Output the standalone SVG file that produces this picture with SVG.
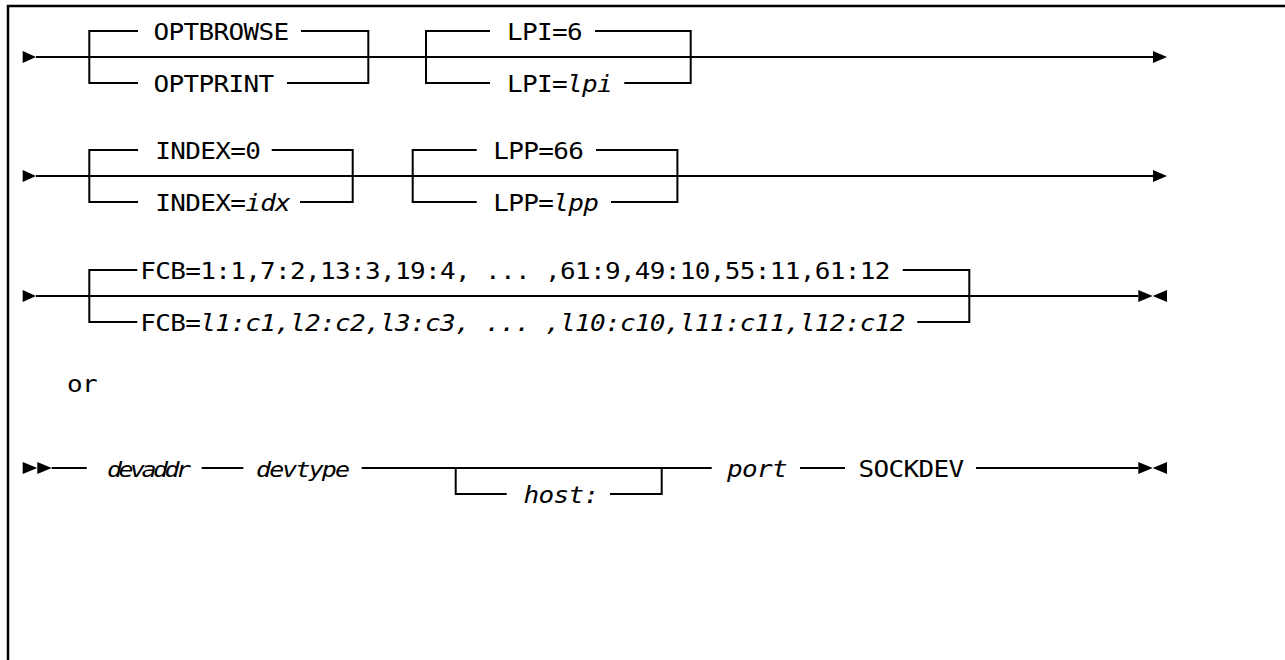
<svg xmlns="http://www.w3.org/2000/svg" width="1285" height="660" viewBox="0 0 1285 660">
<style>
.t{font-family:"DejaVu Sans Mono","Liberation Mono",monospace;font-size:26px;letter-spacing:-0.65px;fill:#000}
.i{font-style:italic}
.v{font-size:25px;letter-spacing:0}
.ln{stroke:#000;stroke-width:2;fill:none}
.ah{fill:#000;stroke:none}
.fr{stroke:#000;stroke-width:2.5;fill:none}
</style>
<rect x="0" y="0" width="1285" height="660" fill="#fff"/>
<path class="fr" d="M8 660 V6 H1285"/>
<g id="connectors">
  <path class="ln" d="M36 57 H1153 M138 31 H89.3 V83 H138 M301 31 H368.3 V83 H287 M490 31 H426 V83 H490 M595 31 H690.7 V83 H624.3"/>
  <path class="ln" d="M36 176 H1153 M138 150 H89.3 V202 H138 M271.7 150 H352.7 V202 H300 M476.7 150 H412.7 V202 H476.7 M596 150 H677.4 V202 H611"/>
  <path class="ln" d="M36 296 H1138.3 M137.3 270 H89.3 V322 H137.3 M902.7 270 H969.3 V322 H917.3"/>
  <path class="ln" d="M51.7 468 H86.7 M201.7 468 H243.3 M361.7 468 H711.7 M455.7 468 V494 H506.7 M610 494 H661.7 V468 M800 468 H845 M976 468 H1138.3"/>
  <polygon class="ah" points="22.7,51 36,57 22.7,63"/>
  <polygon class="ah" points="1153,51 1167,57 1153,63"/>
  <polygon class="ah" points="22.7,170 36,176 22.7,182"/>
  <polygon class="ah" points="1153,170 1167,176 1153,182"/>
  <polygon class="ah" points="22.7,290 36,296 22.7,302"/>
  <polygon class="ah" points="1138.3,290 1152.7,296 1138.3,302"/>
  <polygon class="ah" points="1167,290 1152.7,296 1167,302"/>
  <polygon class="ah" points="22.7,462 37.3,468 22.7,474"/>
  <polygon class="ah" points="37.3,462 51.7,468 37.3,474"/>
  <polygon class="ah" points="1138.3,462 1152.7,468 1138.3,474"/>
  <polygon class="ah" points="1167,462 1152.7,468 1167,474"/>
</g>
<g id="optbrowse" transform="translate(153.5,39.5) scale(1,0.88)"><text class="t">OPTBROWSE</text></g>
<g id="optprint" transform="translate(153.5,91.5) scale(1,0.88)"><text class="t">OPTPRINT</text></g>
<g id="lpi6" transform="translate(507,39.5) scale(1,0.88)"><text class="t">LPI=6</text></g>
<g id="lpivar" transform="translate(507,91.5) scale(1,0.88)"><text class="t">LPI=<tspan class="i">lpi</tspan></text></g>
<g id="index0" transform="translate(155.2,158.5) scale(1,0.88)"><text class="t">INDEX=0</text></g>
<g id="indexvar" transform="translate(155.2,210.5) scale(1,0.88)"><text class="t">INDEX=<tspan class="i">idx</tspan></text></g>
<g id="lpp66" transform="translate(493.2,158.5) scale(1,0.88)"><text class="t">LPP=66</text></g>
<g id="lppvar" transform="translate(493.2,210.5) scale(1,0.88)"><text class="t">LPP=<tspan class="i">lpp</tspan></text></g>
<g id="fcbdefault" transform="translate(140.2,278.5) scale(1,0.88)"><text class="t">FCB=1:1,7:2,13:3,19:4, ... ,61:9,49:10,55:11,61:12</text></g>
<g id="fcbvar" transform="translate(140.2,330.5) scale(1,0.88)"><text class="t">FCB=<tspan class="i">l1:c1,l2:c2,l3:c3, ... ,l10:c10,l11:c11,l12:c12</tspan></text></g>
<g id="or" transform="translate(67,392) scale(1,0.88)"><text class="t">or</text></g>
<g id="devaddr" transform="translate(107,476.5) scale(1,0.88)"><text class="t i v" textLength="84" lengthAdjust="spacing">devaddr</text></g>
<g id="devtype" transform="translate(256,476.5) scale(1,0.88)"><text class="t i v" textLength="94" lengthAdjust="spacing">devtype</text></g>
<g id="host" transform="translate(523.5,502.5) scale(1,0.88)"><text class="t i">host:</text></g>
<g id="port" transform="translate(727,476.5) scale(1,0.88)"><text class="t i">port</text></g>
<g id="sockdev" transform="translate(858.5,476.5) scale(1,0.88)"><text class="t">SOCKDEV</text></g>
</svg>
